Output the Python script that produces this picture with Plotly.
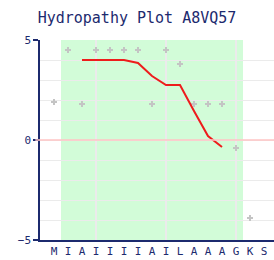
import plotly.graph_objects as go

# Data
residues = ["M", "I", "A", "I", "I", "I", "I", "A", "I", "L", "A", "A", "A", "G", "K", "S"]
hydropathy = [1.9, 4.5, 1.8, 4.5, 4.5, 4.5, 4.5, 1.8, 4.5, 3.8, 1.8, 1.8, 1.8, -0.4, -3.9]
smooth_pos = [2, 3, 4, 5, 6, 7, 8, 9, 10, 11, 12]
smooth_vals = [4.0, 4.0, 4.0, 4.0, 3.85, 3.2, 2.75, 2.75, 1.45, 0.2, -0.35]
region = [1, 13]          # highlighted residue index range (0-based)
y_ticks = [5, 0, -5]
v_grid = [3, 8, 13]

navy = "#1c2a6e"
font = "DejaVu Sans Mono"

fig = go.Figure()
fig.add_trace(go.Scatter(
    x=list(range(len(hydropathy))), y=hydropathy, mode="markers",
    marker=dict(symbol="cross", size=5, color="#c4c4c4", line=dict(width=0)),
    showlegend=False, hoverinfo="skip"))
fig.add_trace(go.Scatter(
    x=smooth_pos, y=smooth_vals, mode="lines",
    line=dict(color="#ee1c1c", width=2), showlegend=False))
# helper trace for vertical gridlines
fig.add_trace(go.Scatter(x=[v_grid[0]], y=[0], xaxis="x2", mode="markers",
                         marker=dict(opacity=0), showlegend=False, hoverinfo="skip"))

fig.add_shape(type="rect", xref="x", yref="paper",
              x0=region[0] - 0.5, x1=region[1] + 0.5, y0=0, y1=1,
              fillcolor="#d2fcd8", line=dict(width=0), layer="below")
fig.add_shape(type="line", xref="paper", yref="y", x0=-0.02, x1=1, y0=0, y1=0,
              line=dict(color="#ffc4c4", width=1.5), layer="above")

xr = [-1, 15.714]
fig.update_layout(
    width=274, height=260,
    margin=dict(l=40, r=0, t=40, b=20),
    paper_bgcolor="white", plot_bgcolor="white",
    title=dict(text="Hydropathy Plot A8VQ57", x=0.5, xanchor="center", y=0.93,
               yanchor="middle", font=dict(family=font, size=15, color=navy)),
    xaxis=dict(range=xr, tickvals=list(range(len(residues))), ticktext=residues,
               showgrid=False, zeroline=False, showline=True, linecolor=navy,
               linewidth=1.5, ticks="", tickfont=dict(family=font, size=11, color=navy)),
    xaxis2=dict(range=xr, overlaying="x", tickvals=v_grid, showticklabels=False,
                showgrid=True, gridcolor="#ebebeb", gridwidth=2, zeroline=False,
                showline=False, ticks=""),
    yaxis=dict(range=[-5, 5], tickvals=y_ticks, showgrid=True, gridcolor="#ebebeb",
               zeroline=False, showline=True, linecolor=navy, linewidth=1.5,
               ticks="outside", ticklen=5, tickcolor=navy, tickwidth=1.5,
               tickfont=dict(family=font, size=11, color=navy),
               minor=dict(dtick=1, showgrid=True, gridcolor="#ebebeb", ticks="")),
)
fig.write_html("out.html")
